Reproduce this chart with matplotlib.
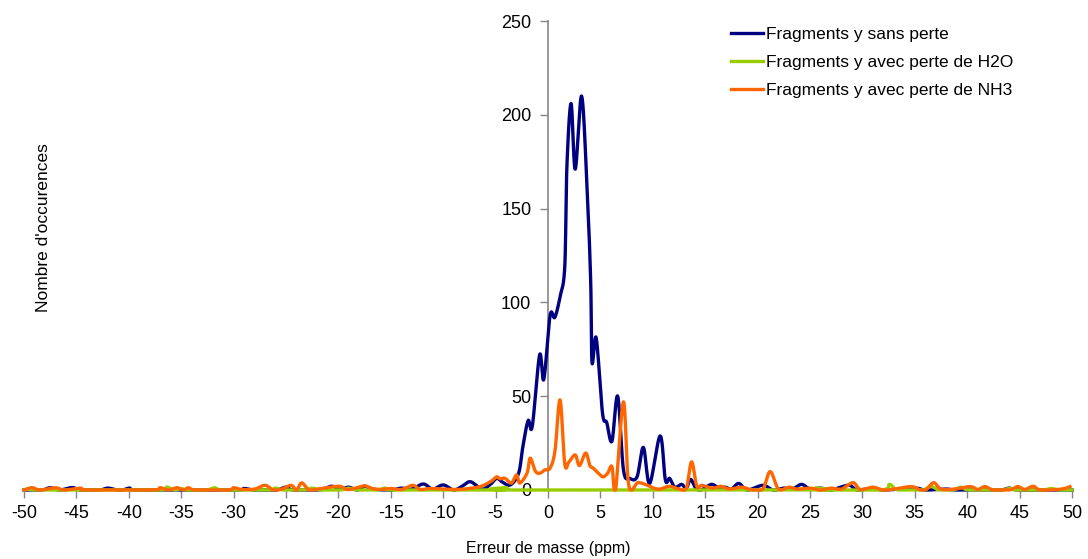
import numpy as np
import matplotlib
matplotlib.use("Agg")
import matplotlib.pyplot as plt

plt.rcParams['font.family'] = ['Liberation Sans', 'DejaVu Sans']
plt.rcParams['axes.unicode_minus'] = False

# mass error (ppm) / number of occurrences, read point by point
x_sans = [-50, -48.3, -47.5, -46.6, -45.4, -44.6, -42.8, -42, -41.1, -40.6, -39.9, -39.2,
          -30, -29, -28, -26, -25, -24.3, -22, -21.2, -20.6, -19.8, -19, -18.2, -17.5,
          -16.8, -15, -14, -13, -11.9, -11, -10, -9, -8.2, -7.4, -6.3, -5.5, -4.9, -4.4,
          -3.6, -2.8, -2.4, -1.9, -1.5, -0.8, -0.4, 0.2, 0.65, 1.15, 1.6, 1.8, 2.2, 2.6,
          3.2, 3.7, 4.07, 4.2, 4.6, 5.2, 5.6, 6.1, 6.65, 7.2, 7.8, 8.5, 9.1, 9.7, 10.7,
          11.2, 11.6, 12.1, 12.75, 13.2, 13.6, 14.1, 14.6, 15.6, 16.3, 16.9, 17.5, 18.2,
          19, 20.5, 21.5, 22.5, 23.3, 24.2, 25, 26, 27, 27.9, 28.8, 29.5, 31, 32, 35, 36,
          38, 39, 43, 44, 45, 50]
y_sans = [0, 0, 1.2, 0, 1.3, 0, 0, 1.0, 0, 0, 1.0, 0,
          0, 0.8, 0, 0, 1.5, 0, 0, 1.0, 2, 0.5, 1.5, 0, 2,
          0.5, 0, 1, 0.5, 3.2, 0.5, 2.7, 0, 2, 4.4, 0.5, 3, 6.2, 4.4,
          2.7, 9, 23, 37, 34, 72, 59, 93, 92, 103, 119, 172, 206, 171,
          210, 165, 112, 68, 81, 41, 36, 26, 50, 10.7, 6.2, 7.1, 22.7, 3.5, 28.8,
          5.3, 6.2, 1.5, 3, 1, 5.7, 1, 0, 3, 1, 1.5, 0.5, 3.5,
          0, 2.5, 0, 1, 0.5, 3, 0.5, 1, 0, 1.5, 2.5, 0, 1, 0, 1, 0,
          0.5, 0, 0, 1, 0, 0]

x_h2o = [-50, -49.3, -48.5, -37.2, -36.4, -35.6, -35, -34.4, -32.6, -31.8, -31, -26.8,
         -26, -25.2, -23.3, -22.5, -21.7, -19.8, -19, -18.2, -16.3, -15.5, -14.7, -4.8,
         -4, -3.2, 24.7, 25.5, 26.3, 31.8, 32.6, 33.4, 35.7, 36.5, 37.3, 38.6, 39.4, 40.2,
         43.2, 44, 44.8, 47.2, 48, 48.8, 50]
y_h2o = [0, 1.0, 0, 0, 1.5, 0, 0.8, 0, 0, 1.2, 0, 0,
         1, 0, 0, 1, 0, 0, 1, 0, 0, 1, 0, 0,
         1.3, 0, 0, 1, 0, 0, 3, 0, 0, 2, 0, 0, 1.5, 0,
         0, 0.8, 0, 0, 0.8, 0, 0]

x_nh3 = [-50, -49.2, -48.5, -47, -46.2, -44.6, -44, -37.8, -37, -36.2, -35.4, -34.8,
         -34.3, -33.6, -30.5, -30, -29.2, -28, -27, -26.2, -25.4, -24.5, -24, -23.5,
         -22.8, -22, -20, -19.2, -18.5, -17.5, -16.8, -16, -15, -14, -12.9, -12.2, -11.3,
         -10, -9, -8, -6.5, -5.5, -4.9, -4.6, -4.1, -3.5, -3.0, -2.7, -2.0, -1.7, -1.2,
         -0.76, -0.3, 0.2, 0.67, 1.15, 1.6, 2.0, 2.6, 3.0, 3.6, 4.0, 4.3, 4.8, 5.25, 5.7,
         6.1, 6.45, 7.2, 7.7, 8.6, 9.5, 10.1, 10.7, 11.6, 12.5, 13.2, 13.7, 14.2, 14.7,
         15.7, 16.5, 17.3, 18.5, 19.5, 20.5, 21.2, 22, 23, 23.8, 25, 26, 27, 28, 29.1,
         29.8, 31, 32, 33, 34.7, 35.5, 36.1, 36.8, 37.5, 38.8, 40.3, 41, 41.7, 42.5, 44,
         44.8, 45.5, 46.3, 47, 49, 49.8]
y_nh3 = [0, 1.2, 0, 1.2, 0, 1, 0, 0, 1.2, 0, 1.2, 0,
         1.2, 0, 0, 1.2, 0.3, 0.5, 2.5, 0, 0.5, 2.5, 0, 3.8,
         0, 0.5, 2, 0.3, 0.8, 2.2, 0.8, 0.3, 0.8, 0.3, 2.5, 0.3, 0.8,
         0.5, 0.3, 0.5, 1.8, 4.4, 7, 6, 6.2, 3.7, 8, 3.7, 9, 17, 10,
         9, 10.7, 11.7, 21, 48, 14, 15, 18.7, 13, 19.7, 13, 11.7, 9, 7, 9,
         12.5, 0, 47, 2.7, 4, 2.5, 1, 0.5, 2, 0.5, 1, 15, 2, 2.5,
         1, 2, 0.5, 1.5, 0, 0.5, 9.8, 0.5, 1.5, 0.5, 1, 0, 1, 0.5, 3.9,
         0.3, 1.5, 0, 0.5, 1.8, 0, 0.3, 3.9, 0.5, 0.5, 1.8, 0.3, 1.8, 0, 0,
         1.8, 0.3, 2, 0, 0.5, 1.8]

labels = ['Fragments y sans perte', 'Fragments y avec perte de H2O',
          'Fragments y avec perte de NH3']
colors = ['#000080', '#99CC00', '#FF6600']
x_ticks = list(range(-50, 51, 5))
y_ticks = [0, 50, 100, 150, 200, 250]


def smooth(xs, ys, n=24):
    # bezier smoothing through every point, control points at 1/6 of the neighbour chord
    p = np.column_stack([xs, ys]).astype(float)
    out = []
    for i in range(len(p) - 1):
        p0 = p[i - 1] if i > 0 else p[i]
        p1, p2 = p[i], p[i + 1]
        p3 = p[i + 2] if i + 2 < len(p) else p[i + 1]
        c1 = p1 + (p2 - p0) / 6
        c2 = p2 - (p3 - p1) / 6
        t = np.linspace(0, 1, n, endpoint=False)[:, None]
        out.append((1 - t) ** 3 * p1 + 3 * (1 - t) ** 2 * t * c1
                   + 3 * (1 - t) * t ** 2 * c2 + t ** 3 * p2)
    out.append(p[-1:])
    c = np.vstack(out)
    return c[:, 0], np.maximum(c[:, 1], 0)


fig = plt.figure(figsize=(10.88, 5.59), dpi=100)
ax = fig.add_axes([24 / 1088, 1 - 490 / 559, 1048 / 1088, 469 / 559])

for xs, ys, lab, col in zip([x_sans, x_h2o, x_nh3], [y_sans, y_h2o, y_nh3], labels, colors):
    sx, sy = smooth(xs, ys)
    ax.plot(sx, sy, color=col, lw=2.4, label=lab, clip_on=False, solid_joinstyle='round')

ax.set_xlim(-50, 50)
ax.set_ylim(0, 250)
ax.set_xticks(x_ticks)
ax.set_yticks(y_ticks)

for s in ['top', 'right']:
    ax.spines[s].set_visible(False)
ax.spines['left'].set_position(('data', 0))
for s in ['left', 'bottom']:
    ax.spines[s].set_color('#868686')
    ax.spines[s].set_linewidth(1.2)
    ax.spines[s].set_zorder(0.5)
ax.tick_params(axis='both', direction='out', length=6, width=1, color='#868686',
               labelsize=13, labelcolor='black')
ax.tick_params(axis='y', pad=6)
ax.tick_params(axis='x', pad=5)

fig.text(44 / 1088, 1 - 228 / 559, "Nombre d'occurences", rotation=90,
         ha='center', va='center', fontsize=12.5)
fig.text(548 / 1088, 1 - 548 / 559, 'Erreur de masse (ppm)', ha='center', va='center',
         fontsize=11.5)

ax.legend(loc='upper left', bbox_to_anchor=(724 / 1088, 1 - 20 / 559),
          bbox_transform=fig.transFigure, frameon=False, fontsize=12.5,
          handlelength=1.85, handletextpad=0.15, labelspacing=0.75, borderaxespad=0)

fig.savefig('out.png', dpi=100)
